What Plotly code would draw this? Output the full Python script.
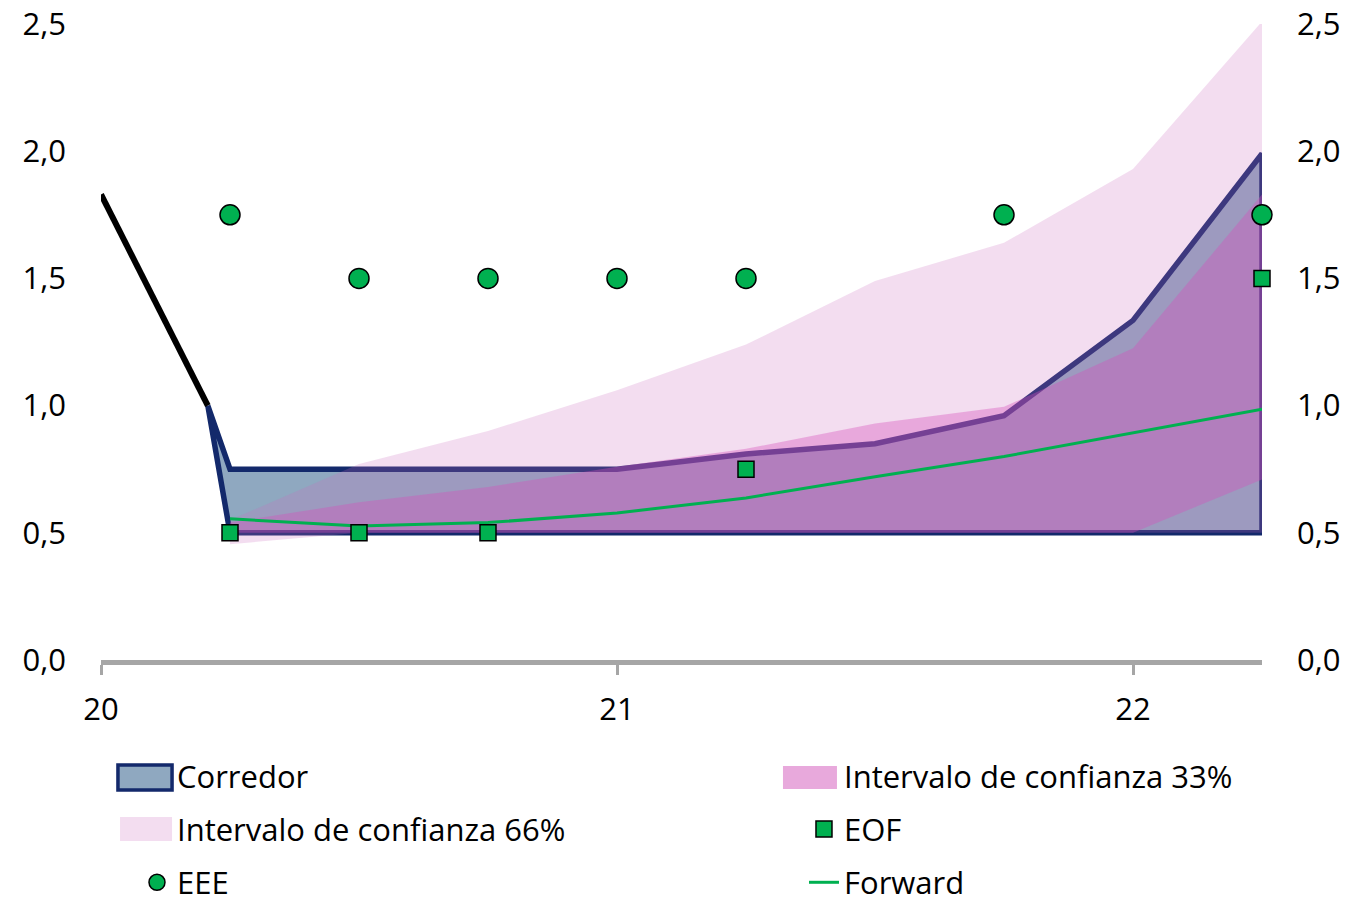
import plotly.graph_objects as go

# ---- data ----
hist_x = [20.0, 20.207]
hist_y = [1.83, 1.0]

quarters = [20.25, 20.5, 20.75, 21.0, 21.25, 21.5, 21.75, 22.0, 22.25]
corr_upper = [0.75, 0.75, 0.75, 0.75, 0.81, 0.85, 0.96, 1.335, 1.99]
corr_lower = [0.50, 0.50, 0.50, 0.50, 0.50, 0.50, 0.50, 0.50, 0.50]

ci66_upper = [0.55, 0.77, 0.90, 1.06, 1.24, 1.49, 1.64, 1.93, 2.51]
ci66_lower = [0.455, 0.50, 0.50, 0.50, 0.50, 0.50, 0.50, 0.50, 0.50]

ci33_upper = [0.54, 0.62, 0.68, 0.76, 0.83, 0.93, 0.995, 1.225, 1.83]
ci33_lower = [0.50, 0.50, 0.50, 0.50, 0.50, 0.50, 0.50, 0.50, 0.71]

forward = [0.555, 0.527, 0.54, 0.578, 0.637, 0.72, 0.80, 0.894, 0.986]

eee_x = [20.25, 20.5, 20.75, 21.0, 21.25, 21.75, 22.25]
eee_y = [1.75, 1.5, 1.5, 1.5, 1.5, 1.75, 1.75]

eof_x = [20.25, 20.5, 20.75, 21.25, 22.25]
eof_y = [0.5, 0.5, 0.5, 0.75, 1.5]

x_ticks = [20, 21, 22]
x_ticktext = ["20", "21", "22"]
y_ticks = [0.0, 0.5, 1.0, 1.5, 2.0, 2.5]

FONT = "Open Sans"
FS = 31
GREEN = "#00B050"
NAVY = "#13296B"
AXIS_GREY = "#A6A6A6"
CORR_FILL = "#8FA8C0"
C66 = "rgba(203,108,190,0.232)"
C33 = "rgba(213,80,186,0.37)"
LEG66 = "#F3DDF0"
LEG33 = "#E8A9DC"
CLEAR = "rgba(0,0,0,0)"

fig = go.Figure()

# Corredor polygon
corr_x = [hist_x[-1]] + quarters + quarters[::-1] + [hist_x[-1]]
corr_y = [hist_y[-1]] + corr_upper + corr_lower[::-1] + [hist_y[-1]]
fig.add_trace(go.Scatter(
    x=corr_x, y=corr_y, mode="lines", fill="toself", fillcolor=CORR_FILL,
    line=dict(color=NAVY, width=5.5), showlegend=False, hoverinfo="skip"))

# 66% band
fig.add_trace(go.Scatter(
    x=quarters + quarters[::-1], y=ci66_upper + ci66_lower[::-1],
    mode="lines", fill="toself", fillcolor=C66,
    line=dict(width=0), showlegend=False, hoverinfo="skip"))

# 33% band
fig.add_trace(go.Scatter(
    x=quarters + quarters[::-1], y=ci33_upper + ci33_lower[::-1],
    mode="lines", fill="toself", fillcolor=C33,
    line=dict(width=0), showlegend=False, hoverinfo="skip"))

# Historical line
fig.add_trace(go.Scatter(
    x=hist_x, y=hist_y, mode="lines", line=dict(color="black", width=6),
    showlegend=False))

# Forward
fig.add_trace(go.Scatter(
    x=quarters, y=forward, mode="lines", line=dict(color=GREEN, width=3),
    name="Forward", legend="legend2", legendgroup="f", legendrank=3))

# EOF
fig.add_trace(go.Scatter(
    x=eof_x, y=eof_y, mode="markers", cliponaxis=False,
    marker=dict(symbol="square", size=16, color=GREEN,
                line=dict(color="black", width=1.5)),
    name="EOF", legend="legend2", legendgroup="e", legendrank=2))

# EEE (on the right-hand axis, which has the same scale)
fig.add_trace(go.Scatter(
    x=eee_x, y=eee_y, mode="markers", cliponaxis=False, yaxis="y2",
    marker=dict(symbol="circle", size=20, color=GREEN,
                line=dict(color="black", width=1.5)),
    name="EEE", legend="legend", legendgroup="d", legendrank=3))

# legend entries for the areas (swatches drawn as shapes below)
fig.add_trace(go.Bar(
    x=[None], y=[None], name="Corredor",
    marker=dict(color=CLEAR, line=dict(width=0)),
    legend="legend", legendgroup="a", legendrank=1))
fig.add_trace(go.Bar(
    x=[None], y=[None], name="Intervalo de confianza 66%",
    marker=dict(color=CLEAR, line=dict(width=0)),
    legend="legend", legendgroup="b", legendrank=2))
fig.add_trace(go.Bar(
    x=[None], y=[None], name="Intervalo de confianza 33%",
    marker=dict(color=CLEAR, line=dict(width=0)),
    legend="legend2", legendgroup="c", legendrank=1))

# legend swatches (paper coordinates)
fig.add_shape(type="rect", xref="paper", yref="paper",
              x0=0.0146, x1=0.0612, y0=-0.1651, y1=-0.2044,
              fillcolor=CORR_FILL, line=dict(color=NAVY, width=3.5))
fig.add_shape(type="rect", xref="paper", yref="paper",
              x0=0.0164, x1=0.0612, y0=-0.2469, y1=-0.2846,
              fillcolor=LEG66, line=dict(width=0))
fig.add_shape(type="rect", xref="paper", yref="paper",
              x0=0.5874, x1=0.6339, y0=-0.1667, y1=-0.2028,
              fillcolor=LEG33, line=dict(width=0))

legend_common = dict(
    xanchor="left", yanchor="top", orientation="v",
    font=dict(family=FONT, size=FS, color="black"),
    bgcolor="rgba(0,0,0,0)", tracegroupgap=10, traceorder="grouped",
    itemclick=False, itemdoubleclick=False,
)

fig.update_layout(
    width=1354, height=891, autosize=False,
    margin=dict(l=93, r=100, t=16, b=239, autoexpand=False),
    paper_bgcolor="white", plot_bgcolor="white",
    separators=",.",
    font=dict(family=FONT, size=FS, color="black"),
    xaxis=dict(
        range=[20, 22.25], tickvals=x_ticks, ticktext=x_ticktext,
        ticks="outside", ticklen=10, tickwidth=3, tickcolor=AXIS_GREY,
        showline=True, linecolor=AXIS_GREY, linewidth=5,
        showgrid=False, zeroline=False, ticklabelstandoff=8,
        automargin=False, ticklabeloverflow="allow",
        tickfont=dict(family=FONT, size=FS, color="black"),
    ),
    yaxis=dict(
        range=[0, 2.5], tickvals=y_ticks, tickformat=".1f",
        showgrid=False, zeroline=False, showline=False, ticks="",
        ticklabelstandoff=34, automargin=False, ticklabeloverflow="allow",
        tickfont=dict(family=FONT, size=FS, color="black"),
    ),
    yaxis2=dict(
        range=[0, 2.5], tickvals=y_ticks, tickformat=".1f",
        overlaying="y", side="right", anchor="x",
        showgrid=False, zeroline=False, showline=False, ticks="",
        ticklabelstandoff=34, automargin=False, ticklabeloverflow="allow",
        tickfont=dict(family=FONT, size=FS, color="black"),
    ),
    legend=dict(x=0.031, y=-0.14, **legend_common),
    legend2=dict(x=0.6055, y=-0.14, **legend_common),
    showlegend=True,
    barmode="overlay",
)

fig.write_html("out.html")
